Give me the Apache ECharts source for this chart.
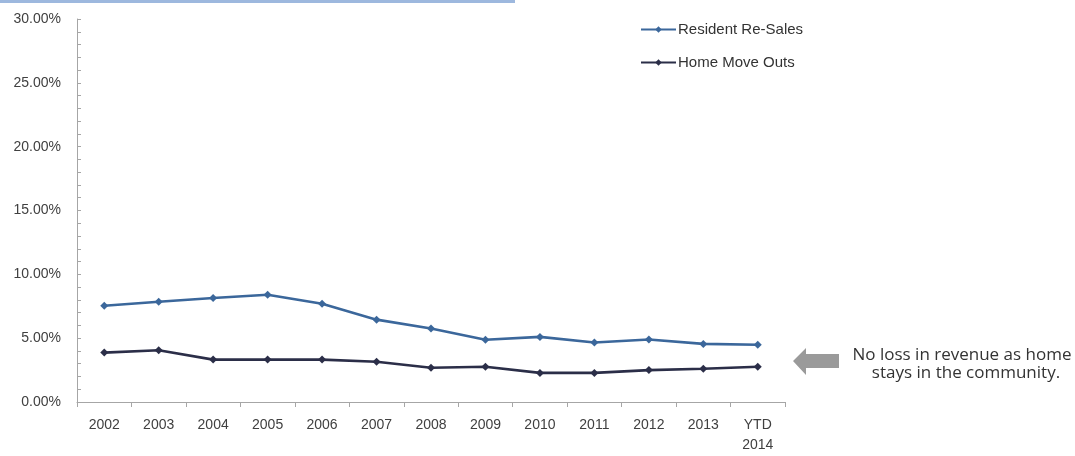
<!DOCTYPE html>
<html>
<head>
<meta charset="utf-8">
<script src="https://cdn.jsdelivr.net/npm/echarts@6/dist/echarts.min.js"></script>
<style>
  html, body { margin: 0; padding: 0; background: #ffffff; }
  #chart { width: 1075px; height: 456px; }
</style>
</head>
<body>
<div id="chart"></div>
<script>
// Turnover rates by year
const years = ['2002', '2003', '2004', '2005', '2006', '2007', '2008', '2009', '2010', '2011', '2012', '2013', 'YTD\n2014'];
const residentReSales = [7.54, 7.85, 8.15, 8.40, 7.70, 6.45, 5.75, 4.88, 5.10, 4.66, 4.90, 4.55, 4.48];
const homeMoveOuts = [3.87, 4.05, 3.32, 3.32, 3.32, 3.15, 2.68, 2.76, 2.28, 2.28, 2.50, 2.60, 2.76];
const seriesNames = ['Resident Re-Sales', 'Home Move Outs'];
const seriesColors = ['#3b679b', '#2b2e48'];
const noteLines = ['No loss in revenue as home', 'stays in the community.'];

const chart = echarts.init(document.getElementById('chart'), null, { renderer: 'canvas' });

const labelFont = 'Liberation Sans, Arial, sans-serif';
const noteFont = '17px "Open Sans", sans-serif';

function lineSeries(name, data, color) {
  return {
    name: name,
    type: 'line',
    data: data,
    symbol: 'diamond',
    symbolSize: 8,
    showSymbol: true,
    lineStyle: { color: color, width: 2.6 },
    itemStyle: { color: color },
    emphasis: { disabled: true },
    animation: false
  };
}

chart.setOption({
  backgroundColor: '#ffffff',
  animation: false,
  grid: { left: 77, right: 290, top: 19, bottom: 54, containLabel: false },
  legend: {
    orient: 'vertical',
    left: 635,
    top: 16,
    itemGap: 16,
    itemWidth: 35,
    itemHeight: 8,
    data: seriesNames,
    textStyle: { color: '#333333', fontSize: 15, lineHeight: 17, fontFamily: labelFont, padding: [0, 0, 0, -3] }
  },
  xAxis: {
    type: 'category',
    data: years,
    boundaryGap: true,
    axisLine: { show: true, lineStyle: { color: '#a6a6a6', width: 1 } },
    axisTick: { show: true, inside: false, length: 5, alignWithLabel: false, lineStyle: { color: '#a6a6a6' } },
    axisLabel: { color: '#404040', fontSize: 14, fontFamily: labelFont, margin: 13, lineHeight: 20, interval: 0 },
    splitLine: { show: false }
  },
  yAxis: {
    type: 'value',
    min: 0,
    max: 30,
    interval: 5,
    axisLine: { show: true, lineStyle: { color: '#a6a6a6', width: 1 } },
    axisTick: { show: true, inside: true, length: 4, lineStyle: { color: '#a6a6a6' } },
    minorTick: { show: true, splitNumber: 5, length: 4, lineStyle: { color: '#a6a6a6' } },
    axisLabel: {
      color: '#404040', fontSize: 14, fontFamily: labelFont, margin: 16,
      formatter: v => v.toFixed(2) + '%'
    },
    splitLine: { show: false }
  },
  series: [
    lineSeries(seriesNames[0], residentReSales, seriesColors[0]),
    lineSeries(seriesNames[1], homeMoveOuts, seriesColors[1])
  ],
  graphic: [
    // banner strip along the top edge
    { type: 'rect', left: 0, top: 0, shape: { width: 515, height: 3 }, style: { fill: '#9db8de' }, silent: true },
    // pointer arrow beside the note
    {
      type: 'polygon',
      silent: true,
      shape: { points: [[793, 361], [806, 348], [806, 354], [839, 354], [839, 368], [806, 368], [806, 375]] },
      style: { fill: '#9a9a9a' }
    },
    {
      type: 'text',
      silent: true,
      style: {
        text: noteLines[0], x: 962, y: 355, textAlign: 'center', textVerticalAlign: 'middle',
        fill: '#333333', font: noteFont
      }
    },
    {
      type: 'text',
      silent: true,
      style: {
        text: noteLines[1], x: 966, y: 373, textAlign: 'center', textVerticalAlign: 'middle',
        fill: '#333333', font: noteFont
      }
    }
  ]
});
</script>
</body>
</html>
